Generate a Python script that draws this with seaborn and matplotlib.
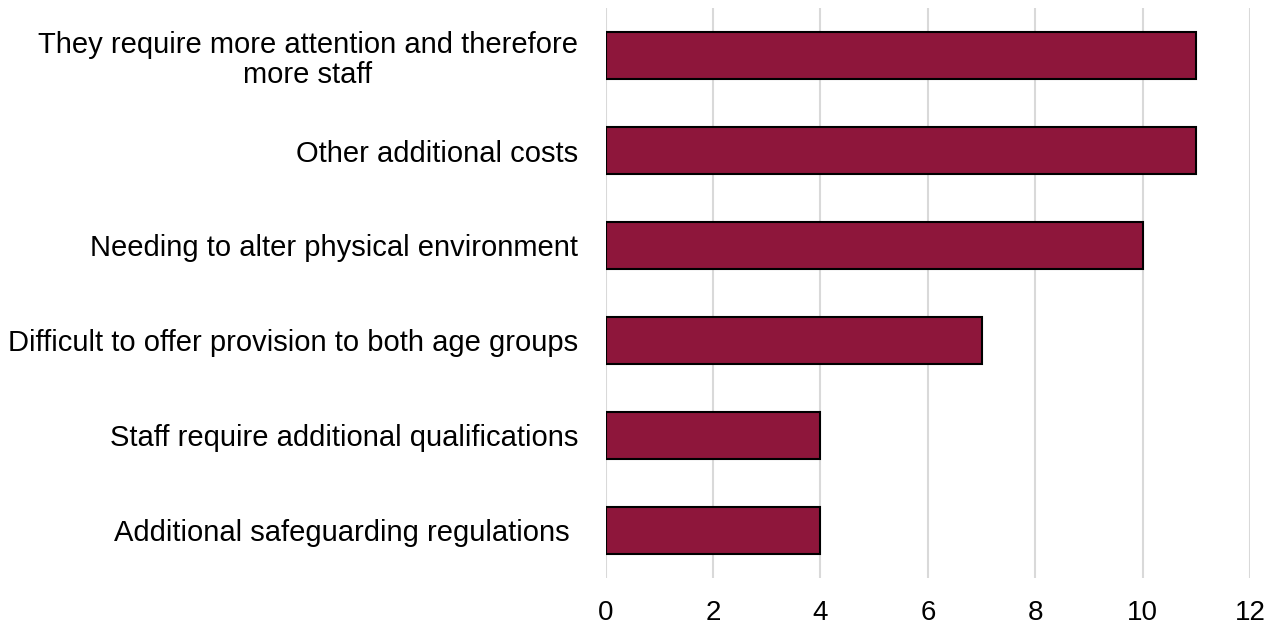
import matplotlib
matplotlib.use("Agg")
import matplotlib.pyplot as plt
import seaborn as sns
import pandas as pd

categories = [
    "They require more attention and therefore\nmore staff",
    "Other additional costs",
    "Needing to alter physical environment",
    "Difficult to offer provision to both age groups",
    "Staff require additional qualifications",
    "Additional safeguarding regulations ",
]
values = [11, 11, 10, 7, 4, 4]
x_ticks = [0, 2, 4, 6, 8, 10, 12]

sns.set_theme(style="white")
plt.rcParams["font.family"] = ["Liberation Sans", "DejaVu Sans"]

df = pd.DataFrame({"reason": categories, "count": values})

fig = plt.figure(figsize=(12.78, 6.26), dpi=100)
ax = fig.add_axes([0.474, 0.077, 0.504, 0.910])

sns.barplot(data=df, x="count", y="reason", orient="h", color="#8E163B",
            edgecolor="black", linewidth=1.5, width=0.5, saturation=1, ax=ax)

ax.set_xlim(0, 12)
ax.set_ylim(5.5, -0.5)
ax.set_xticks(x_ticks)
ax.set_xticklabels([str(t) for t in x_ticks])
ax.xaxis.grid(True, color="#D9D9D9", linewidth=1.5)
ax.set_axisbelow(True)
for s in ax.spines.values():
    s.set_visible(False)
ax.set_xlabel("")
ax.set_ylabel("")
ax.tick_params(axis="x", length=0, pad=16, labelsize=20, labelcolor="black")
ax.tick_params(axis="y", length=0, pad=20, labelsize=21, labelcolor="black")
for lbl in ax.get_yticklabels():
    lbl.set_horizontalalignment("right")
    lbl.set_multialignment("center")
    lbl.set_linespacing(1.1)

fig.savefig("out.png", dpi=100)
